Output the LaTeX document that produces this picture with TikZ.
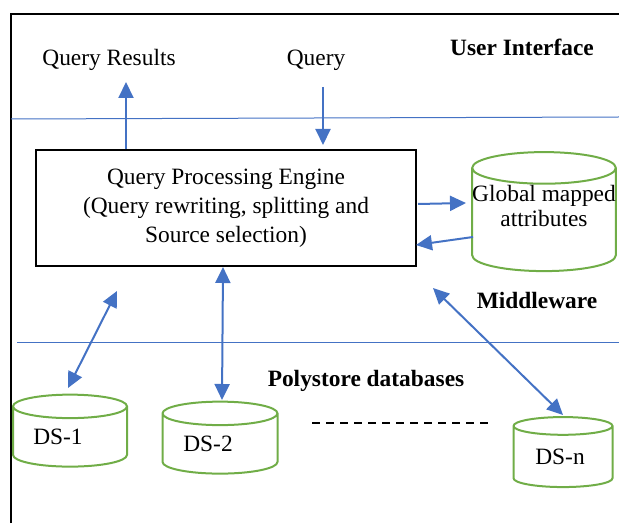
\documentclass[tikz,border=0pt]{standalone}
\usepackage{fontspec}
\setmainfont{Liberation Serif}
\usetikzlibrary{shapes.geometric,arrows.meta}
\definecolor{lineblue}{HTML}{4472C4}
\definecolor{dbgreen}{HTML}{70AD47}
\begin{document}
\begin{tikzpicture}[x=0.5pt, y=-0.5pt,
    every node/.style={font=\fontsize{11.7}{14.5}\selectfont},
    layer/.style={font=\fontsize{11.7}{14.5}\selectfont\bfseries},
    db/.style={cylinder, shape border rotate=90, draw=dbgreen, line width=1pt, aspect=0.32, inner sep=0pt},
    arr/.style={-{Triangle[length=8pt,width=7.5pt]}, line width=1pt, lineblue},
    biarr/.style={{Triangle[length=8pt,width=7.5pt]}-{Triangle[length=8pt,width=7.5pt]}, line width=1pt, lineblue},
    sep/.style={lineblue, line width=0.5pt}]
    \useasboundingbox (0,0) rectangle (619,523);

    % frame and layer lines
    \draw[line width=1.2pt] (11,523) -- (11,14) -- (619,14);
    \draw[sep] (11,119) -- (619,117);
    \draw[sep] (17,342) -- (619,342);

    % labels
    \node (qr) at (109,60) {Query Results};
    \node (q) at (316,60) {Query};
    \node[layer] (ui) at (522,47) {User Interface};
    \node[layer] (mw) at (537,300) {Middleware};
    \node[layer] (pd) at (366,381) {Polystore databases};

    % engine and stores
    \node[draw, line width=1pt, minimum width=190pt, minimum height=57.5pt, align=center] (qpe) at (226,208)
        {Query Processing Engine\\(Query rewriting, splitting and\\Source selection)};
    \node[db, aspect=0.22, minimum width=71.5pt, minimum height=59.5pt, align=center, text depth=14pt,
        font=\fontsize{11.7}{12.5}\selectfont] (gma) at (544,220) {Global mapped\\attributes};
    \node[db, minimum width=57pt, minimum height=36pt] (ds1) at (70,437) {DS-1\kern12pt};
    \node[db, minimum width=57.5pt, minimum height=36pt] (ds2) at (220,444) {DS-2\kern12pt};
    \node[db, minimum width=49.5pt, minimum height=35pt] (dsn) at (563,457) {DS-n\kern3pt};
    \draw[line width=1.2pt, dash pattern=on 4pt off 3pt] (312,423) -- (488,423);

    % arrow ends
    \coordinate (res) at (126,82);
    \coordinate (qin) at (323,87);
    \coordinate (qend) at (323,145);
    \coordinate (a1) at (117,291);
    \coordinate (b1) at (68,388);
    \coordinate (a2) at (223,267);
    \coordinate (b2) at (222,400);
    \coordinate (an) at (433,288);
    \coordinate (bn) at (563,415);

    \draw[arr] (qpe.north -| res) -- (res);
    \draw[arr] (qin) -- (qend);
    \draw[arr] (418,204) -- (466,203);
    \draw[arr] (473,237) -- (416,245);
    \draw[biarr] (a1) -- (b1);
    \draw[biarr] (a2) -- (b2);
    \draw[biarr] (an) -- (bn);
\end{tikzpicture}
\end{document}
